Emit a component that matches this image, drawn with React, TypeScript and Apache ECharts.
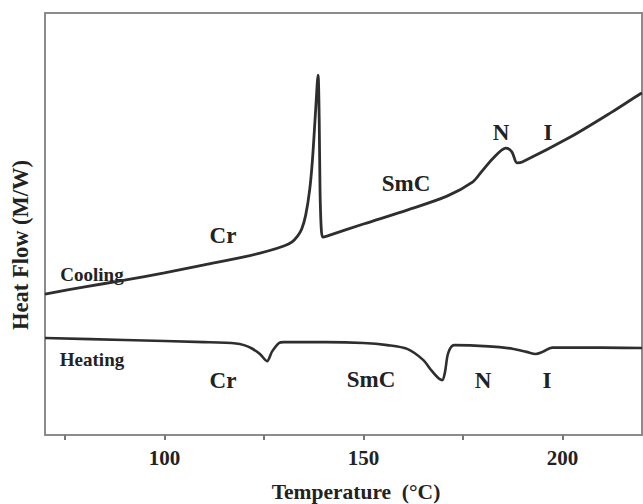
import React, { useEffect, useRef } from "react";
import * as echarts from "echarts";

const coolingT = [70, 80, 90, 100, 110, 120, 126, 130, 132, 133.5, 134.5, 135.5, 136.5, 137.2, 138, 138.6, 138.9, 139.1, 139.4, 139.8, 141, 150, 161, 171, 177.5, 179.6, 182.6, 185.8, 187.3, 188.6, 189.9, 202, 212.4, 219.5, 220];
const coolingV = [33.4, 35.1, 36.7, 38.4, 40.3, 42.2, 43.6, 44.8, 45.7, 47.2, 48.8, 52.1, 58.1, 65.2, 77.0, 85.3, 74.6, 58.1, 49.1, 46.9, 47.2, 50.0, 53.3, 56.6, 60.0, 62.3, 65.6, 68.0, 67.1, 64.5, 64.7, 70.6, 76.5, 80.8, 81.0];

const heatingT = [70, 90, 110, 118, 120, 122, 124, 125.8, 127, 128.8, 130, 140.6, 150, 156, 161, 165, 167, 168.8, 169.8, 170.5, 171.3, 172.8, 181.5, 187.7, 191, 193.3, 195, 197.5, 210, 220];
const heatingV = [23.0, 22.5, 22.0, 21.7, 21.3, 20.5, 19.2, 17.5, 19.7, 21.8, 22.0, 22.0, 21.8, 21.3, 20.4, 17.8, 15.4, 13.5, 13.0, 14.9, 19.4, 21.3, 21.0, 20.4, 19.7, 19.2, 19.7, 20.7, 20.7, 20.6];

const tickValues = [75, 100, 125, 150, 175, 200];
const labelValues = [100, 150, 200];

const xTitle = "Temperature  (°C)";
const yTitle = "Heat Flow (M/W)";

const phaseLabels = [
  { text: "Cooling", x: 92, y: 274, size: 19 },
  { text: "Heating", x: 92, y: 359, size: 19 },
  { text: "Cr", x: 223, y: 235, size: 23 },
  { text: "SmC", x: 406, y: 183, size: 23 },
  { text: "N", x: 501, y: 132, size: 23 },
  { text: "I", x: 548, y: 132, size: 23 },
  { text: "Cr", x: 223, y: 380, size: 23 },
  { text: "SmC", x: 371, y: 379, size: 23 },
  { text: "N", x: 483, y: 380, size: 23 },
  { text: "I", x: 547, y: 380, size: 23 },
];

const FONT = "'Liberation Serif', 'DejaVu Serif', serif";

export default function App() {
  const ref = useRef<HTMLDivElement>(null);
  useEffect(() => {
    if (!ref.current) return;
    const chart = echarts.init(ref.current, undefined, { renderer: "svg" });
    const textStyle = (size: number) => ({
      fontFamily: FONT,
      fontWeight: "bold",
      fontSize: size,
      fill: "#222",
      align: "center",
      verticalAlign: "middle",
    });
    chart.setOption({
      animation: false,
      backgroundColor: "#ffffff",
      grid: {
        left: 45,
        top: 13,
        right: 1,
        bottom: 69,
        show: true,
        borderColor: "#8c8c8c",
        borderWidth: 2,
        backgroundColor: "transparent",
      },
      xAxis: {
        type: "value",
        min: 70,
        max: 220,
        axisLine: { show: true, lineStyle: { color: "#8c8c8c", width: 2 } },
        axisTick: { show: true, customValues: tickValues, length: 5, lineStyle: { color: "#777", width: 2 } },
        axisLabel: {
          show: true,
          customValues: labelValues,
          margin: 12,
          fontFamily: FONT,
          fontWeight: "bold",
          fontSize: 21,
          color: "#222",
        },
        splitLine: { show: false },
      },
      yAxis: {
        type: "value",
        min: 0,
        max: 100,
        axisLine: { show: false },
        axisTick: { show: false },
        axisLabel: { show: false },
        splitLine: { show: false },
      },
      series: [
        {
          type: "line",
          name: "Cooling",
          data: coolingT.map((t, i) => [t, coolingV[i]]),
          showSymbol: false,
          smooth: 0.3,
          lineStyle: { color: "#2e2e2e", width: 2.8 },
        },
        {
          type: "line",
          name: "Heating",
          data: heatingT.map((t, i) => [t, heatingV[i]]),
          showSymbol: false,
          smooth: 0.3,
          lineStyle: { color: "#2e2e2e", width: 2.6 },
        },
      ],
      graphic: [
        ...phaseLabels.map((l) => ({
          type: "text",
          x: l.x,
          y: l.y,
          style: { text: l.text, ...textStyle(l.size) },
        })),
        {
          type: "text",
          x: 356,
          y: 492,
          style: { text: xTitle, ...textStyle(21.5) },
        },
        {
          type: "text",
          x: 20,
          y: 245,
          rotation: Math.PI / 2,
          style: { text: yTitle, ...textStyle(22.5) },
        },
      ],
    });
    return () => chart.dispose();
  }, []);
  return (
    <div
      ref={ref}
      style={{ position: "absolute", left: 0, top: 0, width: 643, height: 504 }}
    />
  );
}
